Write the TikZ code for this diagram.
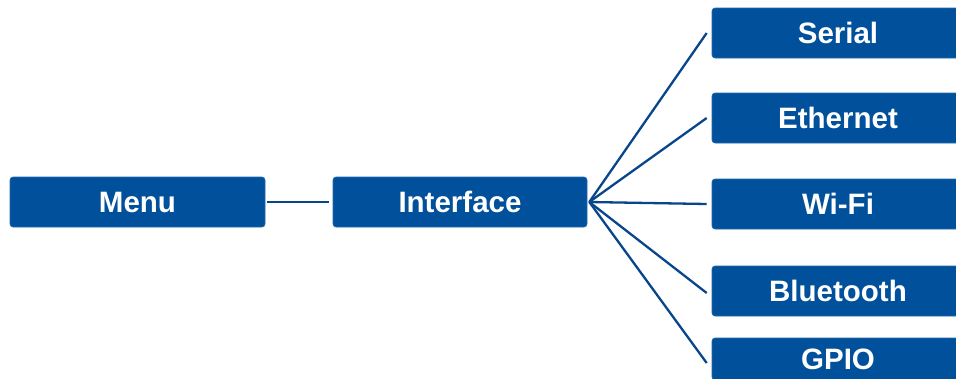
\documentclass[tikz,border=0pt]{standalone}
\usepackage{fontspec}
\setmainfont{Liberation Sans}
\definecolor{boxblue}{RGB}{0,80,155}
\definecolor{lineblue}{RGB}{8,70,140}
\begin{document}
\begin{tikzpicture}[x=1pt,y=-1pt,
  box/.style={fill=boxblue, draw=boxblue!85!white, line width=0.6pt, rounded corners=3pt,
    inner sep=0pt, text=white, font=\fontsize{29.5}{31}\selectfont\bfseries,
    text height=21pt, text depth=0pt, align=center},
  conn/.style={draw=lineblue, line width=2.3pt}]
\useasboundingbox (0,0) rectangle (956,378);
\clip (0,0) rectangle (956,378);
\node[box, minimum width=255pt, minimum height=50pt] (menu) at (137.5,202) {Menu};
\node[box, minimum width=254pt, minimum height=50pt] (iface) at (460,202) {Interface};
\node[box, minimum width=252pt, minimum height=50pt] (serial) at (838,33) {Serial};
\node[box, minimum width=252pt, minimum height=50pt] (eth) at (838,118) {Ethernet};
\node[box, minimum width=252pt, minimum height=50pt] (wifi) at (838,204) {Wi-Fi};
\node[box, minimum width=252pt, minimum height=50pt] (bt) at (838,291) {Bluetooth};
\node[box, minimum width=252pt, minimum height=42pt] (gpio) at (838,359) {GPIO};
\coordinate (fan) at ([xshift=2pt]iface.east);
\draw[conn] ([xshift=2pt]menu.east) -- ([xshift=-4pt]iface.west);
\draw[conn] (fan) -- ([xshift=-5pt]serial.west);
\draw[conn] (fan) -- ([xshift=-5pt]eth.west);
\draw[conn] (fan) -- ([xshift=-5pt]wifi.west);
\draw[conn] (fan) -- ([xshift=-5pt,yshift=-2pt]bt.west);
\draw[conn] (fan) -- ([xshift=-5pt,yshift=-4pt]gpio.west);
\end{tikzpicture}
\end{document}
